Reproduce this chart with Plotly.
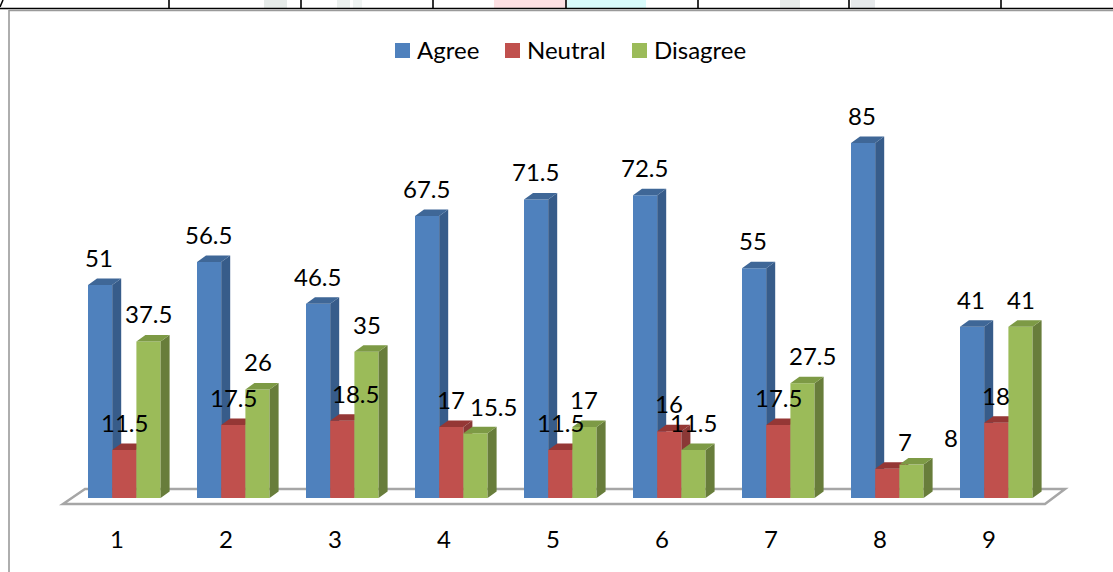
import plotly.graph_objects as go

# Survey responses per statement, in percent
categories = [1, 2, 3, 4, 5, 6, 7, 8, 9]
agree = [51, 56.5, 46.5, 67.5, 71.5, 72.5, 55, 85, 41]
neutral = [11.5, 17.5, 18.5, 17, 11.5, 16, 17.5, 7, 18]
disagree = [37.5, 26, 35, 15.5, 17, 11.5, 27.5, 8, 41]

WIDTH, HEIGHT = 1113, 572
PLOT_BOTTOM = 523          # pixel row where the plot area ends
BASE_PX = 498              # pixel row of value 0
PX_PER_UNIT = 4.176        # vertical scale
FIRST_TICK_PX = 117        # pixel column of category 1
PX_PER_CAT = 109           # horizontal scale
BAR_PX = 24.2              # bar front width
DEPTH_X_PX, DEPTH_Y_PX = 9, 6.5   # oblique extrusion of each bar
FIRST_BAR_LEFT_PX = 88
FONT_SIZE = 24
LABEL_LIFT_PX = 27.5       # gap between a bar's front top and its label centre


def cat_x(px):
    return (px - FIRST_TICK_PX) / PX_PER_CAT + 1


def val_y(px):
    return (BASE_PX - px) / PX_PER_UNIT


def paper_y(px):
    return 1 - px / PLOT_BOTTOM


X_RANGE = [cat_x(0), cat_x(WIDTH)]
Y_RANGE = [val_y(PLOT_BOTTOM), val_y(0)]
BAR_W = BAR_PX / PX_PER_CAT
DX = DEPTH_X_PX / PX_PER_CAT
DY = DEPTH_Y_PX / PX_PER_UNIT
START = (FIRST_BAR_LEFT_PX - FIRST_TICK_PX) / PX_PER_CAT

series = [
    ("Agree", agree, "#4f81bd", "#375c8a", "#3f6797"),
    ("Neutral", neutral, "#c0504d", "#8a3836", "#953735"),
    ("Disagree", disagree, "#9bbb59", "#687d3b", "#7d9a45"),
]

# Hand-placed label nudges in pixels (right, down) for each series
label_nudges = {
    "Agree": {},
    "Neutral": {3: (13, 0), 8: (18, 0)},
    "Disagree": {4: (18, 1), 5: (-1, 0), 7: (10, 0), 8: (39, 0)},
}

# Key entries: swatch left edge and text left edge, in pixels
legend_columns = {"Agree": (395, 417), "Neutral": (505, 527), "Disagree": (632, 654)}
LEGEND_ROW_PX = 50.5
SWATCH_PX = 15

fig = go.Figure()
FONT = "Lato, Carlito, sans-serif"
annotations = []
shapes = []

# Floor plate under the bars
floor = [(63, 504), (85, 489), (1065, 489), (1045, 504)]
floor_path = "M " + " L ".join(f"{cat_x(px)},{val_y(py)}" for px, py in floor) + " Z"
shapes.append(dict(type="path", path=floor_path, xref="x", yref="y", layer="below",
                   fillcolor="#ffffff", line=dict(color="#a6a6a6", width=2.5)))

for idx, (name, values, front, side, top) in enumerate(series):
    suffix = "" if idx == 0 else str(idx + 1)
    xa, ya = "x" + suffix, "y" + suffix
    offset = START + idx * BAR_W

    # Extruded side and top faces, drawn from the same values as the bars
    side_x, side_y, top_x, top_y = [], [], [], []
    for c, v in zip(categories, values):
        left = c + offset
        right = left + BAR_W
        side_x += [right, right + DX, right + DX, right, right, None]
        side_y += [0, DY, v + DY, v, 0, None]
        top_x += [left, left + DX, right + DX, right, left, None]
        top_y += [v, v + DY, v + DY, v, v, None]

    fig.add_trace(go.Bar(
        x=categories, y=values, width=BAR_W, offset=offset, name=name,
        marker=dict(color=front, line=dict(width=0)),
        xaxis=xa, yaxis=ya, hoverinfo="name+y", showlegend=False,
    ))
    fig.add_trace(go.Scatter(
        x=side_x, y=side_y, mode="lines", fill="toself", fillcolor=side,
        line=dict(width=0, color=side), showlegend=False, hoverinfo="skip",
        xaxis=xa, yaxis=ya,
    ))
    fig.add_trace(go.Scatter(
        x=top_x, y=top_y, mode="lines", fill="toself", fillcolor=top,
        line=dict(width=0, color=top), showlegend=False, hoverinfo="skip",
        xaxis=xa, yaxis=ya,
    ))

    for i, (c, v) in enumerate(zip(categories, values), start=1):
        nx, ny = label_nudges[name].get(i, (0, 0))
        annotations.append(dict(
            x=c + offset + BAR_W / 2, y=v, xref="x", yref="y",
            text=str(v), showarrow=False, xanchor="center", yanchor="middle",
            xshift=nx - 1 if idx == 0 else nx, yshift=LABEL_LIFT_PX - ny,
            font=dict(family=FONT, size=FONT_SIZE, color="#000000"),
        ))

    # Key entry for this series
    swatch_px, text_px = legend_columns[name]
    shapes.append(dict(type="rect", xref="x", yref="paper", layer="above",
                       x0=cat_x(swatch_px), x1=cat_x(swatch_px + SWATCH_PX),
                       y0=paper_y(LEGEND_ROW_PX + SWATCH_PX / 2),
                       y1=paper_y(LEGEND_ROW_PX - SWATCH_PX / 2),
                       fillcolor=front, line=dict(width=0)))
    annotations.append(dict(
        x=cat_x(text_px), y=paper_y(LEGEND_ROW_PX), xref="x", yref="paper",
        text=name, showarrow=False, xanchor="left", yanchor="middle",
        xshift=-2, yshift=1.5, font=dict(family=FONT, size=FONT_SIZE, color="#000000"),
    ))


def hline(y, x0, x1, color, width):
    return dict(type="line", xref="x", yref="paper", layer="below",
                x0=cat_x(x0), x1=cat_x(x1), y0=paper_y(y), y1=paper_y(y),
                line=dict(color=color, width=width))


def vline(x, y0, y1, color, width):
    return dict(type="line", xref="x", yref="paper", layer="below",
                x0=cat_x(x), x1=cat_x(x), y0=paper_y(y0), y1=paper_y(y1),
                line=dict(color=color, width=width))


def patch(x0, x1, color):
    return dict(type="rect", xref="x", yref="paper", layer="below",
                x0=cat_x(x0), x1=cat_x(x1), y0=paper_y(0), y1=paper_y(8),
                fillcolor=color, line=dict(width=0))


# Faint tints in the strip above the chart
for x0, x1, color in [(264, 287, "#e6ebe9"), (337, 350, "#ebf0ee"), (353, 362, "#f0f4f3"),
                      (494, 566, "#fde0e3"), (567, 646, "#d9fbfb"),
                      (780, 800, "#e6ebe9"), (851, 875, "#e6e9eb")]:
    shapes.append(patch(x0, x1, color))

# Table rule and cell dividers above the chart frame
shapes.append(hline(8.5, 0, WIDTH, "#000000", 1.6))
for x in [169, 301, 433, 566, 698, 849, 1001]:
    shapes.append(vline(x, 0, 8, "#000000", 1.6))
shapes.append(dict(type="line", xref="x", yref="paper", layer="below",
                   x0=cat_x(0), x1=cat_x(3), y0=paper_y(7), y1=paper_y(0),
                   line=dict(color="#000000", width=1.5)))

# Chart frame
shapes.append(hline(10.5, 9, WIDTH, "#9a9a9a", 1.6))
shapes.append(vline(9, 10, HEIGHT, "#9a9a9a", 1.6))

hidden = dict(range=X_RANGE, visible=False, fixedrange=True)
hidden_y = dict(range=Y_RANGE, visible=False, fixedrange=True)

fig.update_layout(
    width=WIDTH, height=HEIGHT,
    margin=dict(l=0, r=0, t=0, b=HEIGHT - PLOT_BOTTOM, autoexpand=False),
    paper_bgcolor="#ffffff", plot_bgcolor="rgba(0,0,0,0)",
    barmode="overlay", font=dict(family=FONT, size=FONT_SIZE, color="#000000"),
    showlegend=False,
    xaxis=dict(range=X_RANGE, tickmode="array", tickvals=categories,
               ticktext=[str(c) for c in categories], showgrid=False, zeroline=False,
               showline=False, ticks="", fixedrange=True,
               tickfont=dict(family=FONT, size=FONT_SIZE, color="#000000")),
    yaxis=dict(range=Y_RANGE, visible=False, showgrid=False, zeroline=False, fixedrange=True),
    xaxis2=dict(overlaying="x", anchor="y2", **hidden),
    yaxis2=dict(overlaying="y", anchor="x2", **hidden_y),
    xaxis3=dict(overlaying="x", anchor="y3", **hidden),
    yaxis3=dict(overlaying="y", anchor="x3", **hidden_y),
    annotations=annotations,
    shapes=shapes,
)

fig.write_html("out.html", config=dict(displayModeBar=False))
